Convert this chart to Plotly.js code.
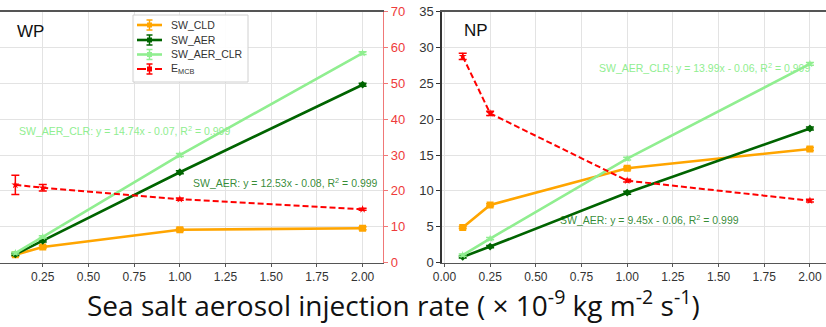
<!DOCTYPE html>
<html><head><meta charset="utf-8">
<script src="https://cdn.plot.ly/plotly-3.0.1.min.js"></script>
<style>html,body{margin:0;padding:0;background:#fff}#c{width:826px;height:327px}</style>
</head><body><div id="c"></div>
<script>
const rates = [0.1, 0.25, 1.0, 2.0];
// WP panel (SW on hidden 0-35 axis, E_MCB on red 0-70 axis)
const wpSWCLD = [1.1, 2.2, 4.6, 4.8];
const wpSWAER = [1.15, 3.05, 12.6, 24.8];
const wpSWAERCLR = [1.35, 3.6, 15.0, 29.2];
const wpEMCB = [21.7, 20.9, 17.7, 14.9];
const wpEMCBerr = [2.7, 0.9, 0.3, 0.3];
// NP panel
const npSWCLD = [4.9, 8.05, 13.15, 15.85];
const npSWAER = [0.8, 2.25, 9.75, 18.7];
const npSWAERCLR = [1.05, 3.35, 14.5, 27.7];
const npEMCB = [28.75, 20.8, 11.43, 8.65];
const npEMCBerr = [0.45, 0.3, 0.2, 0.2];
const swErrSmall = [0.15, 0.15, 0.2, 0.2];
const legendNames = ['SW_CLD', 'SW_AER', 'SW_AER_CLR', 'E<sub>MCB</sub>'];

const cOr = '#FFA500', cDg = '#006400', cLg = '#90EE90', cRd = '#FF0000';
function tr(x, y, err, name, color, sym, size, xa, ya, dash) {
  return {x: x, y: y, name: name, xaxis: xa, yaxis: ya, type: 'scatter', mode: 'lines+markers',
    line: {color: color, width: dash ? 2 : 2.6, dash: dash || 'solid'},
    marker: {color: color, symbol: sym, size: size},
    error_y: {type: 'data', array: err, visible: true, color: color, thickness: 1.5, width: 4},
    showlegend: false};
}
const data = [
  tr(rates, wpSWCLD, swErrSmall, legendNames[0], cOr, 'square', 7, 'x', 'y'),
  tr(rates, wpSWAER, swErrSmall, legendNames[1], cDg, 'diamond', 6, 'x', 'y'),
  tr(rates, wpSWAERCLR, swErrSmall, legendNames[2], cLg, 'star', 6, 'x', 'y'),
  tr(rates, wpEMCB, wpEMCBerr, legendNames[3], cRd, 'star', 6, 'x', 'y2', '6px,3px'),
  tr(rates, npSWCLD, swErrSmall, legendNames[0], cOr, 'square', 7, 'x2', 'y3'),
  tr(rates, npSWAER, swErrSmall, legendNames[1], cDg, 'diamond', 6, 'x2', 'y3'),
  tr(rates, npSWAERCLR, swErrSmall, legendNames[2], cLg, 'star', 6, 'x2', 'y3'),
  tr(rates, npEMCB, npEMCBerr, legendNames[3], cRd, 'star', 6, 'x2', 'y3', '6px,3px')
];

// custom legend (matplotlib-like compact spacing), pixel -> paper helpers
const W = 826, H = 327;
const px = v => v / W, py = v => 1 - v / H;
const shapes = [];
const annotations = [];
shapes.push({type: 'rect', xref: 'paper', yref: 'paper', x0: px(133), x1: px(248), y0: py(15), y1: py(82),
  fillcolor: 'rgba(255,255,255,0.92)', line: {color: '#d0d0d0', width: 1}, layer: 'above'});
const legColors = [cOr, cDg, cLg, cRd];
const legDash = ['solid', 'solid', 'solid', 'dash'];
const legY = [25, 40, 54.5, 69];
legColors.forEach((col, i) => {
  const yc = legY[i];
  shapes.push({type: 'line', xref: 'paper', yref: 'paper', x0: px(137), x1: px(162), y0: py(yc), y1: py(yc),
    line: {color: col, width: i === 3 ? 2 : 2.6, dash: legDash[i]}, layer: 'above'});
  shapes.push({type: 'line', xref: 'paper', yref: 'paper', x0: px(149.5), x1: px(149.5), y0: py(yc - 5), y1: py(yc + 5),
    line: {color: col, width: 1.5}, layer: 'above'});
  shapes.push({type: 'line', xref: 'paper', yref: 'paper', x0: px(146.5), x1: px(152.5), y0: py(yc - 5), y1: py(yc - 5),
    line: {color: col, width: 1.5}, layer: 'above'});
  shapes.push({type: 'line', xref: 'paper', yref: 'paper', x0: px(146.5), x1: px(152.5), y0: py(yc + 5), y1: py(yc + 5),
    line: {color: col, width: 1.5}, layer: 'above'});
  shapes.push({type: 'rect', xref: 'paper', yref: 'paper', x0: px(147), x1: px(152), y0: py(yc - 2.5), y1: py(yc + 2.5),
    fillcolor: col, line: {color: col, width: 0}, layer: 'above'});
  annotations.push({xref: 'paper', yref: 'paper', x: px(169), y: py(yc), xanchor: 'left', yanchor: 'middle',
    text: legendNames[i], showarrow: false, font: {size: 10.5, color: '#333'}});
});

const yDom = [(327 - 262.7) / 327, (327 - 11.5) / 327];
const tickFont = {family: 'Liberation Sans, Arial, sans-serif', size: 12, color: '#333'};
const gridC = '#e3e3e3';
const tv = [0, 0.25, 0.5, 0.75, 1, 1.25, 1.5, 1.75, 2];
const tt = ['0.00','0.25','0.50','0.75','1.00','1.25','1.50','1.75','2.00'];
const layout = {
  width: W, height: H, margin: {l: 0, r: 0, t: 0, b: 0},
  paper_bgcolor: '#fff', plot_bgcolor: '#fff', showlegend: false,
  font: {family: 'Liberation Sans, Arial, sans-serif'},
  xaxis: {domain: [0, 382.7 / 826], range: [0.016, 2.11], tickvals: tv, ticktext: tt,
    showgrid: true, gridcolor: gridC, showline: true, mirror: true, linecolor: '#555', linewidth: 1.3,
    ticks: 'outside', ticklen: 3, tickcolor: '#555', tickfont: tickFont, zeroline: false, anchor: 'y'},
  yaxis: {domain: yDom, range: [0, 35], dtick: 5, showticklabels: false, showgrid: true, gridcolor: gridC,
    zeroline: false, showline: false, anchor: 'x'},
  yaxis2: {overlaying: 'y', side: 'right', anchor: 'x', range: [0, 70], dtick: 10, showgrid: false, zeroline: false,
    showline: true, linecolor: '#f07878', linewidth: 1.5, ticks: 'outside', ticklen: 4, tickcolor: '#f07878',
    tickfont: {family: 'Liberation Sans, Arial, sans-serif', size: 13, color: '#ee3b3b'}},
  xaxis2: {domain: [441.7 / 826, 1], range: [-0.015, 2.088], tickvals: tv, ticktext: tt,
    showgrid: true, gridcolor: gridC, showline: true, mirror: true, linecolor: '#555', linewidth: 1.3,
    ticks: 'outside', ticklen: 3, tickcolor: '#555', tickfont: tickFont, zeroline: false, anchor: 'y3'},
  yaxis3: {domain: yDom, range: [0, 35], dtick: 5, anchor: 'x2', showgrid: true, gridcolor: gridC, zeroline: false,
    showline: true, linecolor: '#333', linewidth: 1.3, ticks: 'outside', ticklen: 4, tickcolor: '#333',
    tickfont: {family: 'Liberation Sans, Arial, sans-serif', size: 13, color: '#333'}},
  shapes: shapes,
  annotations: annotations.concat([
    {xref: 'paper', yref: 'paper', x: 15 / 826, y: 1 - 31 / 327, xanchor: 'left', yanchor: 'middle', text: 'WP', showarrow: false,
      font: {size: 17, color: '#111'}},
    {xref: 'paper', yref: 'paper', x: 462 / 826, y: 1 - 30 / 327, xanchor: 'left', yanchor: 'middle', text: 'NP', showarrow: false,
      font: {size: 17, color: '#111'}},
    {xref: 'paper', yref: 'paper', x: 17 / 826, y: 1 - 130 / 327, xanchor: 'left', yanchor: 'middle',
      text: 'SW_AER_CLR: y = 14.74x - 0.07, R<sup>2</sup> = 0.999', showarrow: false, font: {size: 10.5, color: cLg}},
    {xref: 'paper', yref: 'paper', x: 191 / 826, y: 1 - 182 / 327, xanchor: 'left', yanchor: 'middle',
      text: 'SW_AER: y = 12.53x - 0.08, R<sup>2</sup> = 0.999', showarrow: false, font: {size: 10.5, color: 'rgba(0,110,0,0.8)'}},
    {xref: 'paper', yref: 'paper', x: 597 / 826, y: 1 - 67 / 327, xanchor: 'left', yanchor: 'middle',
      text: 'SW_AER_CLR: y = 13.99x - 0.06, R<sup>2</sup> = 0.999', showarrow: false, font: {size: 10.5, color: cLg}},
    {xref: 'paper', yref: 'paper', x: 558 / 826, y: 1 - 219 / 327, xanchor: 'left', yanchor: 'middle',
      text: 'SW_AER: y = 9.45x - 0.06, R<sup>2</sup> = 0.999', showarrow: false, font: {size: 10.5, color: 'rgba(0,110,0,0.8)'}},
    {xref: 'paper', yref: 'paper', x: 393 / 826, y: 1 - 303 / 327, xanchor: 'center', yanchor: 'middle',
      text: 'Sea salt aerosol injection rate ( × 10<sup>-9</sup> kg m<sup>-2</sup> s<sup>-1</sup>)', showarrow: false,
      font: {family: 'Open Sans, sans-serif', size: 28, color: '#111'}}
  ])
};
Plotly.newPlot('c', data, layout, {displayModeBar: false, staticPlot: true});
</script></body></html>
